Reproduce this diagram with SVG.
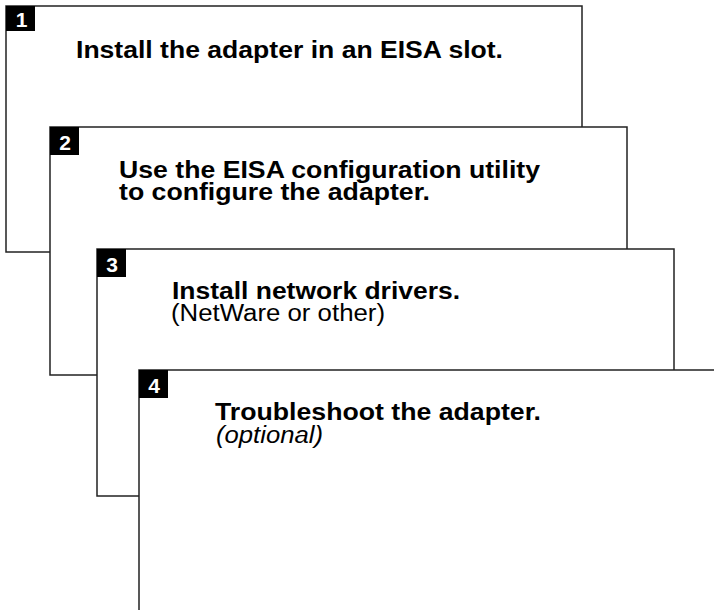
<svg xmlns="http://www.w3.org/2000/svg" width="714" height="611" viewBox="0 0 714 611">
<style>
.card{fill:#fff;stroke:#222;stroke-width:1.5}
.badge{fill:#000}
.num{font-family:"Liberation Sans",Arial,sans-serif;font-weight:bold;font-size:21px;fill:#fff;text-anchor:middle}
.t{font-family:"Liberation Sans",Arial,sans-serif;font-size:23px;fill:#000}
.b{font-weight:bold}
.i{font-style:italic}
</style>
<rect width="714" height="611" fill="#fff"/>
<g id="step1">
<rect class="card" x="6" y="6" width="576" height="246"/>
<rect class="badge" x="6" y="6" width="29" height="25"/>
<text class="num" x="21.5" y="27">1</text>
<text class="t b" x="76" y="58" textLength="427" lengthAdjust="spacingAndGlyphs">Install the adapter in an EISA slot.</text>
</g>
<g id="step2">
<rect class="card" x="50" y="127" width="577" height="248"/>
<rect class="badge" x="50" y="127" width="29" height="28"/>
<text class="num" x="65" y="150">2</text>
<text class="t b" x="119" y="178" textLength="421" lengthAdjust="spacingAndGlyphs">Use the EISA configuration utility</text>
<text class="t b" x="119" y="200" textLength="311" lengthAdjust="spacingAndGlyphs">to configure the adapter.</text>
</g>
<g id="step3">
<rect class="card" x="97" y="249" width="577" height="247"/>
<rect class="badge" x="97" y="249" width="29" height="28"/>
<text class="num" x="112" y="272">3</text>
<text class="t b" x="172" y="299" textLength="288" lengthAdjust="spacingAndGlyphs">Install network drivers.</text>
<text class="t" x="171" y="321" textLength="214" lengthAdjust="spacingAndGlyphs">(NetWare or other)</text>
</g>
<g id="step4">
<rect x="139" y="370" width="580" height="250" fill="#fff"/>
<path d="M139 610 V370 H714" fill="none" stroke="#222" stroke-width="1.5"/>
<rect class="badge" x="139" y="370" width="29" height="28"/>
<text class="num" x="154" y="393">4</text>
<text class="t b" x="215" y="420" textLength="326" lengthAdjust="spacingAndGlyphs">Troubleshoot the adapter.</text>
<text class="t i" x="216" y="443" textLength="107" lengthAdjust="spacingAndGlyphs">(optional)</text>
</g>
<g id="connectors"/>
</svg>
